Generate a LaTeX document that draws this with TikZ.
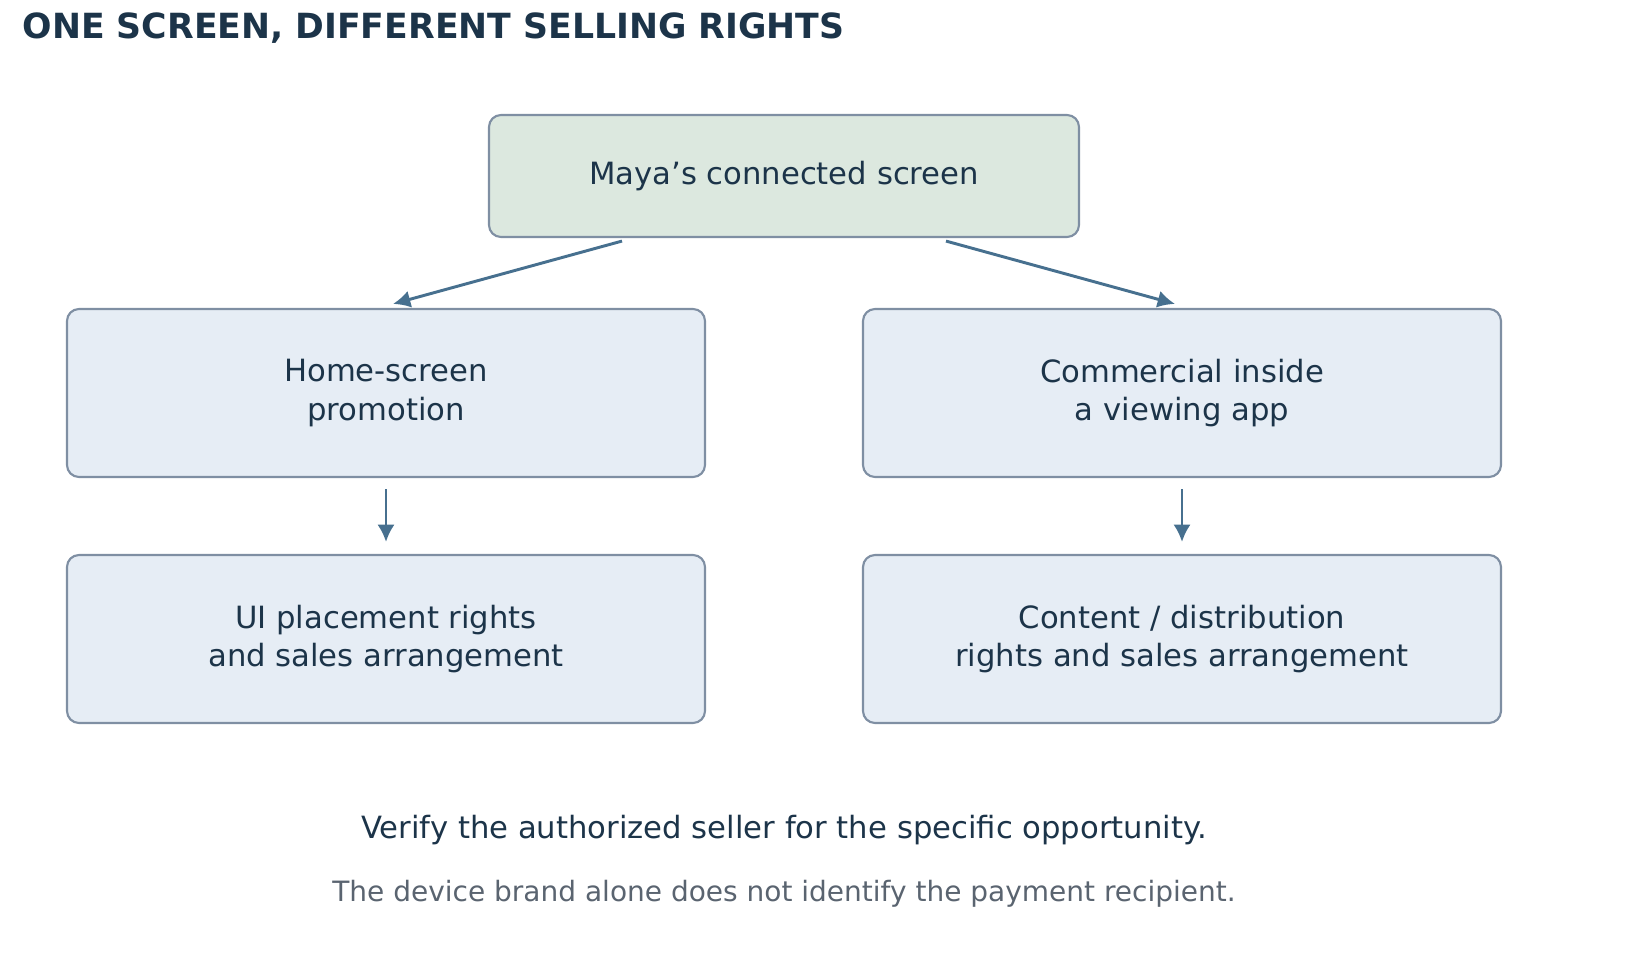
\documentclass[tikz,border=0pt]{standalone}
\usepackage{fontspec}
\setmainfont{DejaVu Sans}
\usetikzlibrary{positioning,arrows.meta}
\definecolor{ink}{HTML}{1C3449}
\definecolor{edge}{HTML}{7F8FA3}
\definecolor{arrowc}{HTML}{47708F}
\definecolor{greenbox}{HTML}{DCE8DF}
\definecolor{bluebox}{HTML}{E6EDF5}
\definecolor{note}{HTML}{5A6470}
\tikzset{
  box/.style={draw=edge, line width=1.6pt, rounded corners=9pt, text=ink, align=center,
    font=\fontsize{23}{29}\selectfont, inner sep=0pt},
  arr/.style={draw=arrowc, line width=2.2pt, -{Latex[length=13pt,width=13pt]}},
}
\begin{document}
\begin{tikzpicture}[x=0.75pt,y=-0.75pt]
  \useasboundingbox (0,0) rectangle (1625,975);

  \node[anchor=west, text=ink, font=\fontsize{26}{30}\selectfont\bfseries] (title) at (18,28) {ONE SCREEN, DIFFERENT SELLING RIGHTS};

  \node[box, fill=greenbox, minimum width=590*0.75pt, minimum height=122*0.75pt] (maya) at (784,176) {Maya's connected screen};
  \node[box, fill=bluebox, minimum width=638*0.75pt, minimum height=168*0.75pt] (home) at (386,393) {Home-screen\\promotion};
  \node[box, fill=bluebox, minimum width=638*0.75pt, minimum height=168*0.75pt] (comm) at (1182,393) {Commercial inside\\a viewing app};
  \node[box, fill=bluebox, minimum width=638*0.75pt, minimum height=168*0.75pt] (ui) at (386,639) {UI placement rights\\and sales arrangement};
  \node[box, fill=bluebox, minimum width=638*0.75pt, minimum height=168*0.75pt] (cont) at (1182,639) {Content / distribution\\rights and sales arrangement};

  \draw[arr] ([xshift=-162*0.75pt,yshift=-3*0.75pt]maya.south) -- ([xshift=7*0.75pt,yshift=4*0.75pt]home.north);
  \draw[arr] ([xshift=162*0.75pt,yshift=-3*0.75pt]maya.south) -- ([xshift=-7*0.75pt,yshift=4*0.75pt]comm.north);
  \draw[arr] ([yshift=-11*0.75pt]home.south) -- ([yshift=12*0.75pt]ui.north);
  \draw[arr] ([yshift=-11*0.75pt]comm.south) -- ([yshift=12*0.75pt]cont.north);

  \node[text=ink, font=\fontsize{23}{28}\selectfont] (verify) at (784,830) {Verify the authorized seller for the specific opportunity.};
  \node[text=note, font=\fontsize{21}{26}\selectfont] (brand) at (784,894) {The device brand alone does not identify the payment recipient.};
\end{tikzpicture}
\end{document}
